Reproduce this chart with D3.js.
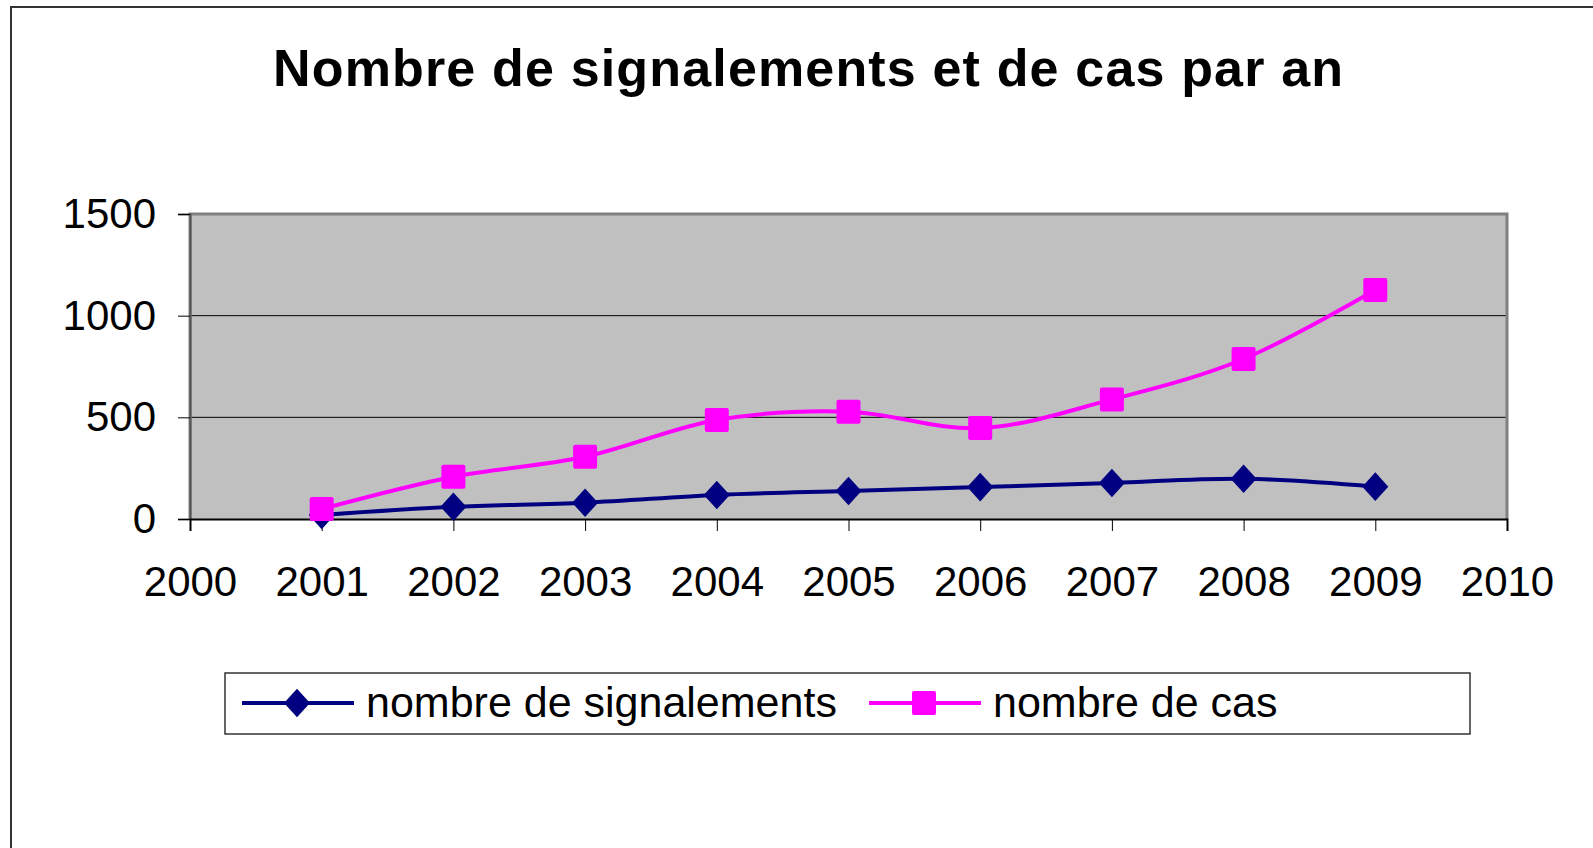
<!DOCTYPE html>
<html>
<head>
<meta charset="utf-8">
<script src="https://cdn.jsdelivr.net/npm/d3@7"></script>
<style>
  body { margin: 0; background: #fff; }
  text { font-family: Arial, "Liberation Sans", sans-serif; }
</style>
</head>
<body>
<div class="chart"></div>
<script>
// data
const years = [2001, 2002, 2003, 2004, 2005, 2006, 2007, 2008, 2009];
const signalements = [20, 60, 80, 118, 138, 157, 177, 198, 159];
const cas = [49, 208, 306, 487, 528, 447, 588, 787, 1126];
const yTicks = [0, 500, 1000, 1500];
const xTicks = [2000, 2001, 2002, 2003, 2004, 2005, 2006, 2007, 2008, 2009, 2010];

const series = [
  { name: 'nombre de signalements', values: signalements, color: '#000080', marker: 'diamond' },
  { name: 'nombre de cas', values: cas, color: '#FF00FF', marker: 'square' }
];

const W = 1593, H = 848;
const plot = { left: 190, top: 214, right: 1507, bottom: 519 };

const svg = d3.select('.chart').append('svg')
  .attr('width', W).attr('height', H);

// outer frame (runs off the right and bottom edge)
svg.append('rect')
  .attr('x', 11).attr('y', 7).attr('width', 1700).attr('height', 1000)
  .attr('fill', 'none').attr('stroke', '#333').attr('stroke-width', 2);

// title
svg.append('text')
  .attr('x', 273).attr('y', 86)
  .attr('textLength', 1070).attr('lengthAdjust', 'spacing')
  .style('font-size', '52px').style('font-weight', 'bold')
  .text('Nombre de signalements et de cas par an');

const x = d3.scaleLinear().domain([2000, 2010]).range([plot.left, plot.right]);
const y = d3.scaleLinear().domain([0, 1500]).range([plot.bottom, plot.top]);

// plot background
svg.append('rect')
  .attr('x', plot.left).attr('y', plot.top)
  .attr('width', plot.right - plot.left).attr('height', plot.bottom - plot.top)
  .attr('fill', '#C0C0C0');

// grid lines
svg.append('g').selectAll('line')
  .data([500, 1000])
  .join('line')
  .attr('x1', plot.left).attr('x2', plot.right)
  .attr('y1', d => y(d)).attr('y2', d => y(d))
  .attr('stroke', '#000').attr('stroke-width', 1);

// plot border: gray top / left / right
svg.append('path')
  .attr('d', `M${plot.left},${plot.bottom} V${plot.top} H${plot.right} V${plot.bottom}`)
  .attr('fill', 'none').attr('stroke', '#808080').attr('stroke-width', 3);

// axes
const yAxis = svg.append('g')
  .attr('transform', `translate(${plot.left},0)`)
  .call(d3.axisLeft(y).tickValues(yTicks).tickSize(12).tickPadding(22).tickFormat(d3.format('d')));
yAxis.select('.domain').attr('stroke', '#555').attr('stroke-width', 2);
yAxis.selectAll('.tick line').attr('stroke', '#000');
yAxis.selectAll('text').style('font-size', '42px').attr('fill', '#000');

const xAxis = svg.append('g')
  .attr('transform', `translate(0,${plot.bottom})`)
  .call(d3.axisBottom(x).tickValues(xTicks).tickSize(12).tickPadding(35).tickFormat(d3.format('d')));
xAxis.select('.domain').attr('stroke', '#000').attr('stroke-width', 2);
xAxis.selectAll('.tick line').attr('stroke', '#000');
xAxis.selectAll('text').style('font-size', '42px').attr('fill', '#000');

const line = d3.line().curve(d3.curveCatmullRom.alpha(0));

function drawMarker(g, kind, cx, cy, color, s) {
  if (kind === 'diamond') {
    g.append('path')
      .attr('d', `M${cx},${cy - s * 1.1} L${cx + s},${cy} L${cx},${cy + s * 1.1} L${cx - s},${cy} Z`)
      .attr('fill', color);
  } else {
    g.append('rect')
      .attr('x', cx - s).attr('y', cy - s).attr('width', 2 * s).attr('height', 2 * s)
      .attr('rx', 2).attr('fill', color);
  }
}

series.forEach(sr => {
  const g = svg.append('g');
  const pts = years.map((yr, i) => [x(yr), y(sr.values[i])]);
  g.append('path')
    .attr('d', line(pts))
    .attr('fill', 'none').attr('stroke', sr.color).attr('stroke-width', 4);
  pts.forEach(p => drawMarker(g, sr.marker, p[0], p[1], sr.color, sr.marker === 'diamond' ? 13 : 12));
});

// legend
const legend = svg.append('g');
legend.append('rect')
  .attr('x', 225).attr('y', 673).attr('width', 1245).attr('height', 61)
  .attr('fill', '#fff').attr('stroke', '#333').attr('stroke-width', 1.5);

let lx = 242;
series.forEach(sr => {
  legend.append('line')
    .attr('x1', lx).attr('x2', lx + 112).attr('y1', 703).attr('y2', 703)
    .attr('stroke', sr.color).attr('stroke-width', 4);
  drawMarker(legend, sr.marker, lx + 55, 703, sr.color, sr.marker === 'diamond' ? 13 : 12);
  legend.append('text')
    .attr('x', lx + 124).attr('y', 717)
    .style('font-size', '43px')
    .text(sr.name);
  lx = 869;
});
</script>
</body>
</html>
